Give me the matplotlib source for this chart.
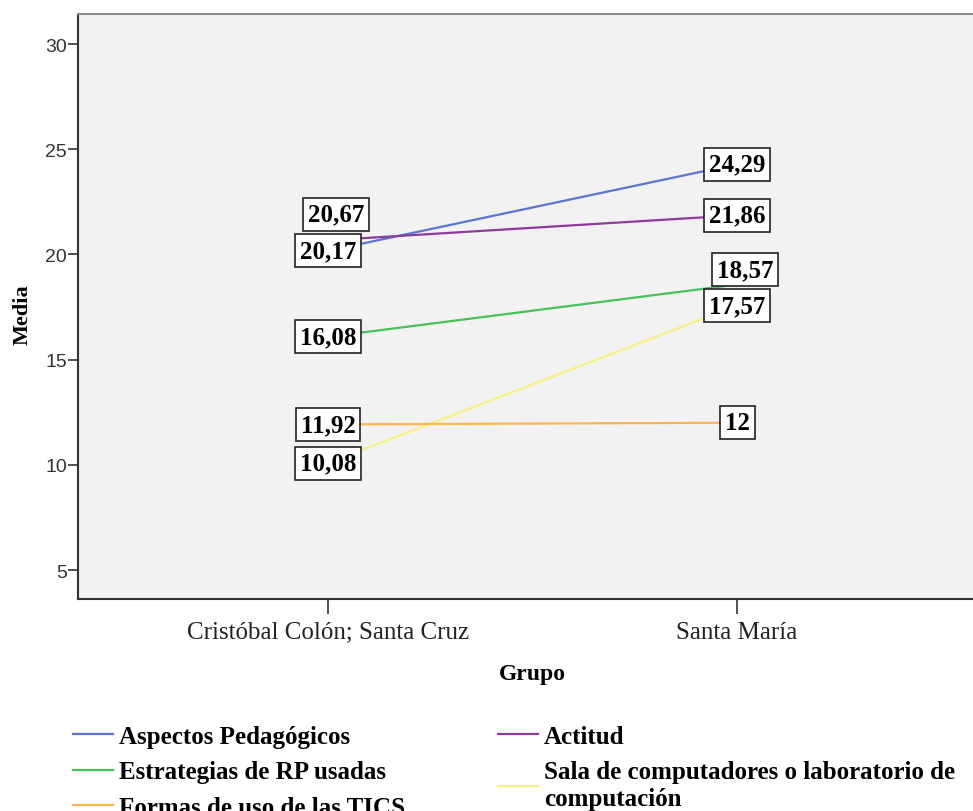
import matplotlib
matplotlib.use("Agg")
import matplotlib.pyplot as plt

# Data
grupos = ["Cristóbal Colón; Santa Cruz", "Santa María"]
series_names = [
    "Aspectos Pedagógicos",
    "Actitud",
    "Estrategias de RP usadas",
    "Sala de computadores o laboratorio de\ncomputación",
    "Formas de uso de las TICS",
]
aspectos = [20.17, 24.29]
actitud = [20.67, 21.86]
estrategias = [16.08, 18.57]
sala = [10.08, 17.57]
formas = [11.92, 12.00]

colors = ["#5a76d2", "#8e3c9a", "#45c25a", "#f7f084", "#fdb54c"]
values = [aspectos, actitud, estrategias, sala, formas]

# label nudges (pixels) so overlapping value boxes stay readable
nudges = {(1, 0): (8, 26), (2, 1): (8, 15)}

W, H = 973, 812
fig = plt.figure(figsize=(W / 100, H / 100), dpi=100)
fig.patch.set_facecolor("white")

left, right, top, bottom = 78, 987, 15, 600
ax = fig.add_axes([left / W, 1 - bottom / H, (right - left) / W, (bottom - top) / H])
ax.set_facecolor("#f2f2f2")

x = list(range(len(grupos)))
lines = []
for i, (name, vals, c) in enumerate(zip(series_names, values, colors)):
    (ln,) = ax.plot(x, vals, color=c, lw=1.6, label=name, zorder=3)
    lines.append(ln)
    for j, v in enumerate(vals):
        txt = f"{v:.2f}".rstrip("0").rstrip(".").replace(".", ",")
        dx, dy = nudges.get((i, j), (0, 0))
        ax.annotate(
            txt, (x[j], v), xytext=(dx, dy), textcoords="offset pixels",
            ha="center", va="center", fontsize=18, fontweight="bold",
            family="Liberation Serif", color="black", zorder=5 + i,
            bbox=dict(boxstyle="square,pad=0.2", fc="white", ec="#222222", lw=1.2),
        )

ax.set_xlim(-0.611, 1.611)
ax.set_ylim(3.622, 31.426)
ax.set_yticks([5, 10, 15, 20, 25, 30])
ax.set_xticks(x)
ax.set_xticklabels(grupos, family="Liberation Serif", fontsize=18, color="#222222")
for lab in ax.get_yticklabels():
    lab.set_family("Liberation Sans")
    lab.set_fontsize(14)
    lab.set_color("#333333")

ax.tick_params(axis="y", direction="out", length=7, width=1.2, pad=1, color="#333333")
ax.tick_params(axis="x", direction="out", length=11, width=1.2, pad=5, color="#333333")

for s in ["left", "bottom"]:
    ax.spines[s].set_color("#333333")
    ax.spines[s].set_linewidth(1.5)
ax.spines["top"].set_color("#8a8a8a")
ax.spines["top"].set_linewidth(1.5)
ax.spines["right"].set_color("#8a8a8a")

ax.set_xlabel("Grupo", family="Liberation Serif", fontweight="bold", fontsize=17)
ax.set_ylabel("Media", family="Liberation Serif", fontweight="bold", fontsize=16)
ax.xaxis.set_label_coords(0.5, -0.11)
ax.yaxis.set_label_coords(-0.05, 0.487)

order = [0, 2, 4, 1, 3]
ax.legend(
    [lines[k] for k in order], [series_names[k] for k in order],
    ncol=2, frameon=False, loc="upper left",
    bbox_to_anchor=(73 / W, 1 - 726 / H), bbox_transform=fig.transFigure,
    prop={"family": "Liberation Serif", "weight": "bold", "size": 18},
    handlelength=1.6, handletextpad=0.25, columnspacing=3.7,
    labelspacing=0.5, borderpad=0, borderaxespad=0,
)

fig.savefig("out.png", dpi=100, facecolor="white")
